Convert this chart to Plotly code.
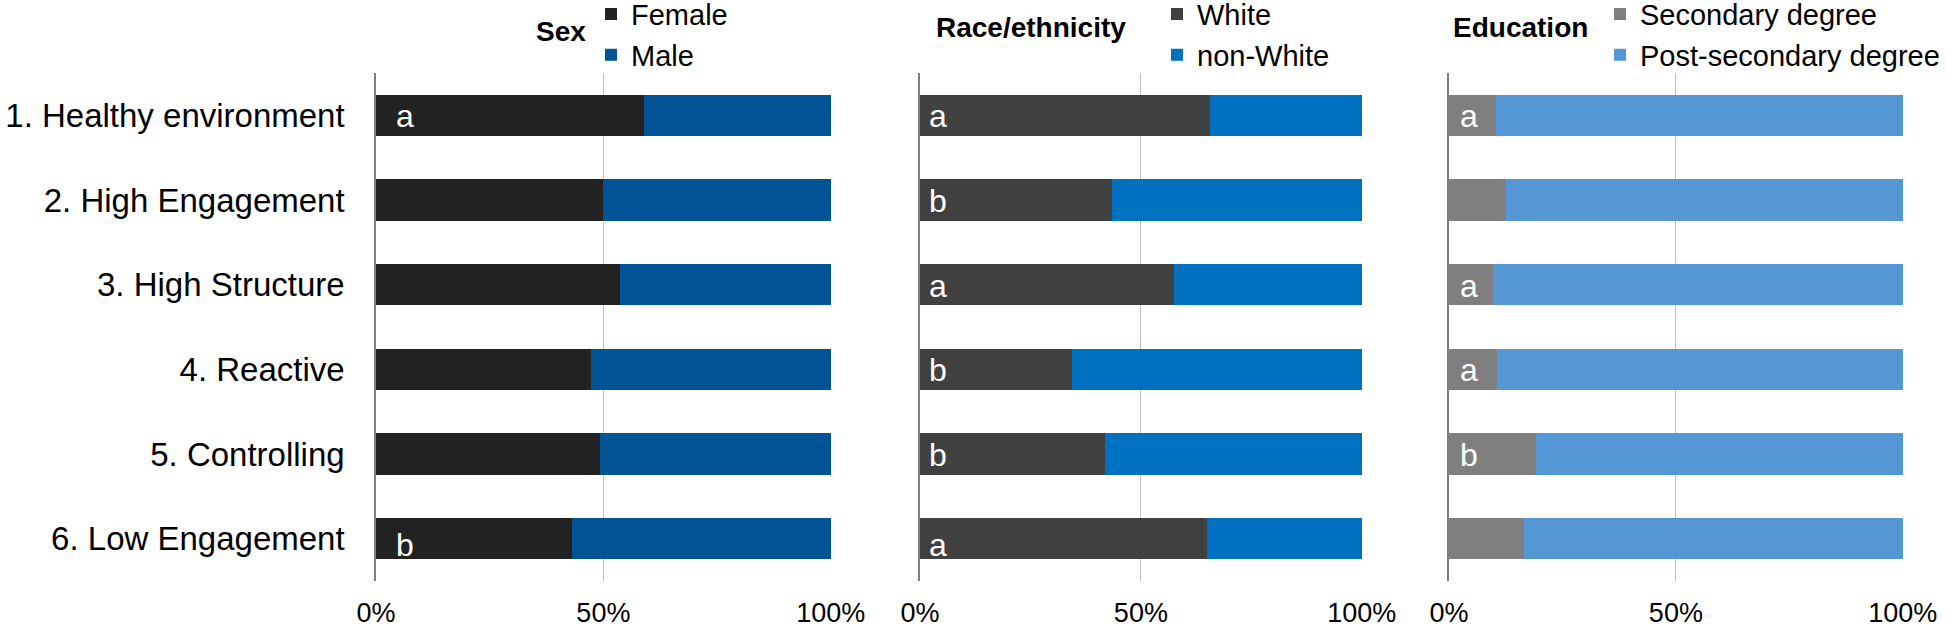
import plotly.graph_objects as go

W, H = 1946, 628

profiles = ['1. Healthy environment', '2. High Engagement', '3. High Structure',
            '4. Reactive', '5. Controlling', '6. Low Engagement']

female = [0.59, 0.50, 0.536, 0.472, 0.492, 0.431]
male = [1 - v for v in female]
white = [0.657, 0.434, 0.576, 0.345, 0.419, 0.649]
non_white = [1 - v for v in white]
secondary = [0.103, 0.126, 0.098, 0.106, 0.191, 0.165]
post_secondary = [1 - v for v in secondary]

sex_letters = ['a', '', '', '', '', 'b']
race_letters = ['a', 'b', 'a', 'b', 'b', 'a']
edu_letters = ['a', '', 'a', 'a', 'b', '']

FONT = 'Arial, Liberation Sans, sans-serif'


def px(x):
    return x / W


def py(y):
    return 1 - y / H


panels = [
    dict(xa='x', ya='y', legend='legend', title='Sex', title_x=588, title_y=32, leg_x=591,
         series=[('Female', female, '#222222'), ('Male', male, '#005496')],
         letters=sex_letters, let_x=0.04, dom=(376, 831)),
    dict(xa='x2', ya='y2', legend='legend2', title='Race/ethnicity', title_x=1128, title_y=27, leg_x=1157,
         series=[('White', white, '#404040'), ('non-White', non_white, '#0070C0')],
         letters=race_letters, let_x=0.016, dom=(920, 1362)),
    dict(xa='x3', ya='y3', legend='legend3', title='Education', title_x=1590, title_y=28, leg_x=1600,
         series=[('Secondary degree', secondary, '#7F7F7F'),
                 ('Post-secondary degree', post_secondary, '#5596D4')],
         letters=edu_letters, let_x=0.02, dom=(1449, 1903)),
]

fig = go.Figure()
annotations = []
layout = dict(
    width=W, height=H, barmode='stack', bargap=0.51,
    margin=dict(l=0, r=0, t=0, b=0, autoexpand=False),
    paper_bgcolor='white', plot_bgcolor='white',
    font=dict(family=FONT, color='black'),
    showlegend=True,
)

for i, p in enumerate(panels):
    for name, vals, color in p['series']:
        fig.add_trace(go.Bar(
            y=profiles, x=vals, name=name, orientation='h',
            marker=dict(color=color, line=dict(width=0)),
            xaxis=p['xa'], yaxis=p['ya'], legend=p['legend'],
            hoverinfo='skip'))

    for j, letter in enumerate(p['letters']):
        if letter:
            annotations.append(dict(
                x=p['let_x'], y=profiles[j], xref=p['xa'], yref=p['ya'],
                text=letter, showarrow=False, xanchor='left',
                yshift=-6 if j == len(profiles) - 1 else -1,
                font=dict(family=FONT, size=32, color='white')))

    annotations.append(dict(
        x=px(p['title_x']), y=py(p['title_y']), xref='paper', yref='paper',
        text='<b>' + p['title'] + '</b>', showarrow=False,
        xanchor='right', yanchor='middle',
        font=dict(family=FONT, size=28, color='black')))

    suffix = '' if i == 0 else str(i + 1)
    layout['xaxis' + suffix] = dict(
        domain=[px(p['dom'][0]), px(p['dom'][1])], range=[0, 1.0005],
        anchor=p['ya'], tickvals=[0, 0.5, 1], tickformat='.0%',
        showgrid=True, gridcolor='#BFBFBF', gridwidth=1, zeroline=False,
        ticks='', ticklabelstandoff=13, fixedrange=True, automargin=False,
        tickfont=dict(family=FONT, size=27, color='black'))
    layout['yaxis' + suffix] = dict(
        domain=[py(581), py(73)], anchor=p['xa'],
        autorange='reversed', showline=True, linecolor='#7F7F7F', linewidth=1.5,
        showgrid=False, ticks='', showticklabels=(i == 0),
        ticklabelstandoff=23, fixedrange=True, automargin=False,
        tickfont=dict(family=FONT, size=33, color='black'))
    if i > 0:
        layout['yaxis' + suffix]['matches'] = 'y'
    layout[p['legend']] = dict(
        x=px(p['leg_x']), y=1.018, xanchor='left', yanchor='top',
        xref='paper', yref='paper',
        traceorder='normal', bgcolor='rgba(0,0,0,0)',
        font=dict(family=FONT, size=29, color='black'),
        itemclick=False, itemdoubleclick=False, tracegroupgap=0)

layout['annotations'] = annotations
fig.update_layout(**layout)

fig.write_html('out.html', config={'displayModeBar': False},
               post_script="document.body.style.margin='0';")
